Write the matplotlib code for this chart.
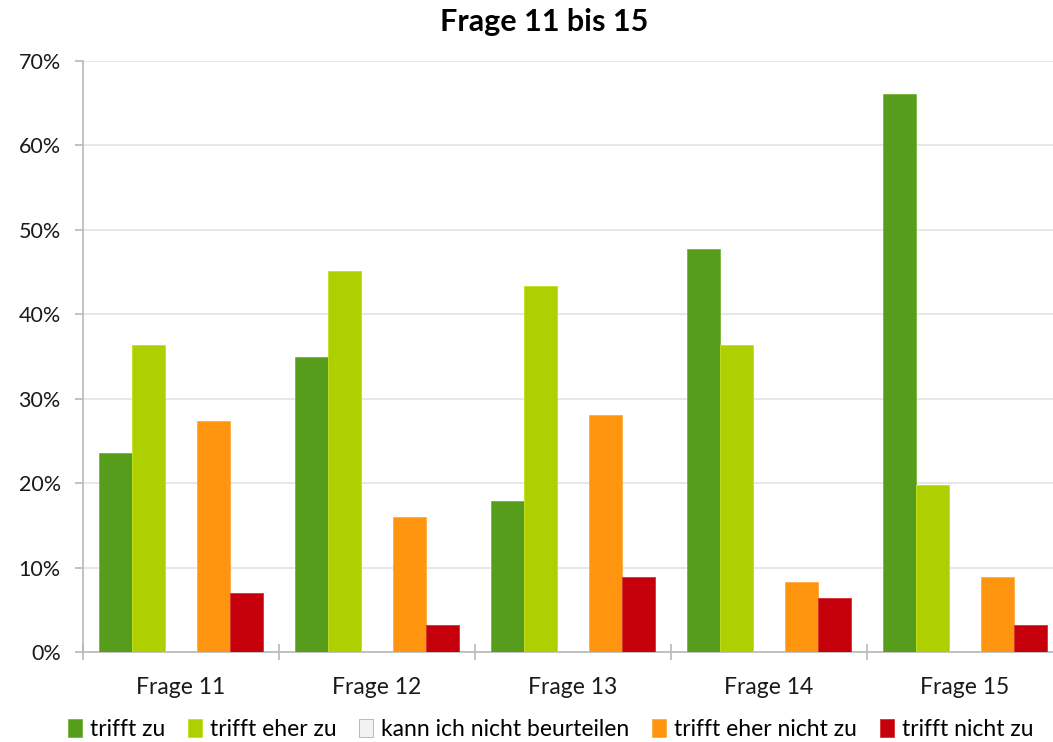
import numpy as np
import matplotlib.pyplot as plt
from matplotlib.ticker import PercentFormatter, FixedLocator, NullFormatter

plt.rcParams['font.family'] = ['Lato', 'DejaVu Sans']

fragen = ["Frage 11", "Frage 12", "Frage 13", "Frage 14", "Frage 15"]
serien = ["trifft zu", "trifft eher zu", "kann ich nicht beurteilen",
          "trifft eher nicht zu", "trifft nicht zu"]

trifft_zu = [23.6, 34.9, 17.9, 47.7, 66.1]
trifft_eher_zu = [36.4, 45.1, 43.3, 36.4, 19.8]
kann_nicht = [0, 0, 0, 0, 0]
eher_nicht_zu = [27.4, 16.0, 28.1, 8.3, 8.9]
nicht_zu = [7.0, 3.2, 8.9, 6.4, 3.2]

werte = [trifft_zu, trifft_eher_zu, kann_nicht, eher_nicht_zu, nicht_zu]
farben = ["#579D1C", "#AECF00", "#F2F2F2", "#FF950E", "#C5000B"]
kanten = ["#78B43C", "#C4E020", "#B0B0B0", "#FFAA40", "#D83030"]

fig = plt.figure(figsize=(10.53, 7.42), dpi=100)
ax = fig.add_axes([83 / 1053, 90 / 742, 980 / 1053, 591 / 742])

x = np.arange(len(fragen))
breite = 1 / 6
for i, (name, vals) in enumerate(zip(serien, werte)):
    ax.bar(x + (i - 2) * breite, vals, breite, color=farben[i],
           edgecolor=kanten[i], linewidth=0.6, label=name, zorder=3)

ax.set_xlim(-0.5, len(fragen) - 0.5)
ax.set_ylim(0, 70)
ax.set_yticks(np.arange(0, 71, 10))
ax.yaxis.set_major_formatter(PercentFormatter(decimals=0))
ax.grid(axis='y', color='#E3E3E3', linewidth=1.2, zorder=0)

ax.set_xticks(x)
ax.set_xticklabels(fragen)
ax.xaxis.set_minor_locator(FixedLocator(np.arange(-0.5, len(fragen), 1)))
ax.xaxis.set_minor_formatter(NullFormatter())
ax.tick_params(axis='x', which='major', length=0, labelsize=16.5, pad=18,
               colors='#1A1A1A')
ax.tick_params(axis='x', which='minor', direction='inout', length=12,
               color='#B8B8B8', width=1.2)
ax.tick_params(axis='y', length=6, color='#B8B8B8', width=1.2,
               labelsize=15.5, pad=10, labelcolor='#1A1A1A')

for s in ['top', 'right']:
    ax.spines[s].set_visible(False)
for s in ['left', 'bottom']:
    ax.spines[s].set_color('#B8B8B8')
    ax.spines[s].set_linewidth(1.2)

fig.text(0.517, 0.97, "Frage 11 bis 15", ha='center', va='center',
         fontsize=22, fontweight='bold', color='black')

fig.legend(loc='center', bbox_to_anchor=(0.523, 0.017), ncol=5, frameon=False,
           fontsize=16.5, handlelength=0.6, handleheight=0.85, handletextpad=0.35,
           columnspacing=1.0, borderaxespad=0)

fig.savefig("out.png", dpi=100)
